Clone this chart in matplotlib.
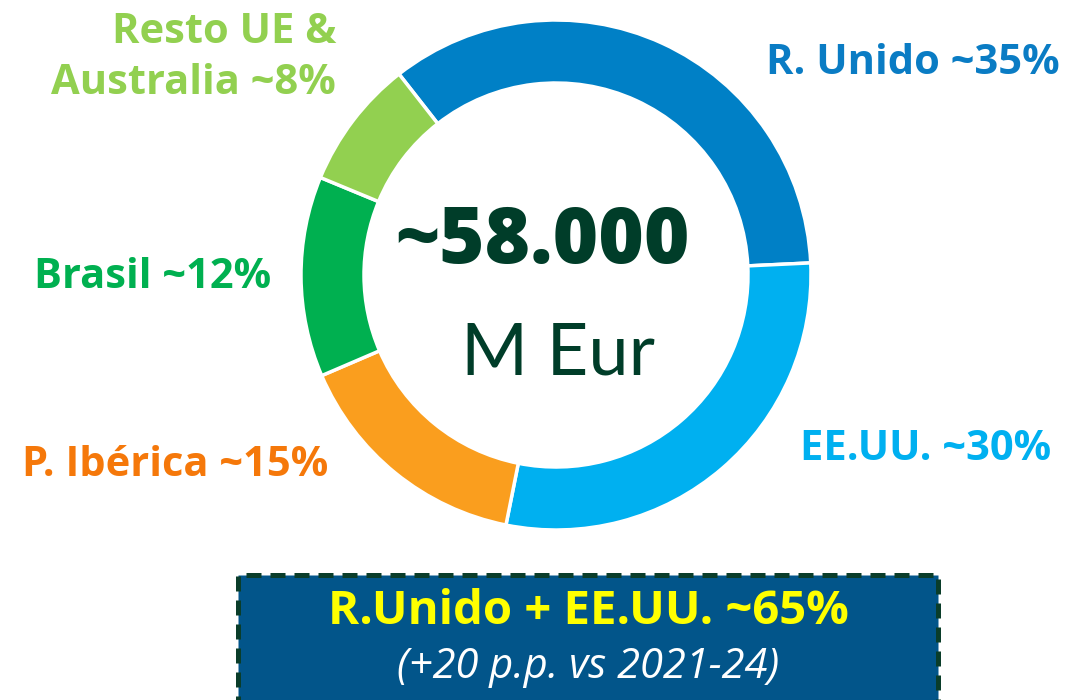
import matplotlib
matplotlib.use("Agg")
import matplotlib.pyplot as plt
from matplotlib.patches import Rectangle

# data
regions = ["R. Unido", "EE.UU.", "P. Ibérica", "Brasil", "Resto UE &\nAustralia"]
share_labels = [35, 30, 15, 12, 8]
share_values = [34.8, 28.9, 15.4, 12.7, 8.2]  # as drawn in the ring
seg_colors = ["#0080C6", "#00B0F0", "#FA9E1E", "#00B050", "#92D050"]
label_colors = ["#0A7CC4", "#00B0F0", "#F5780A", "#00B050", "#92D050"]
total_text = "~58.000"
unit_text = "M Eur"
box_title = "R.Unido + EE.UU. ~65%"
box_sub = "(+20 p.p. vs 2021-24)"

plt.rcParams["font.family"] = ["Open Sans", "DejaVu Sans"]

W, H = 1076, 700
fig = plt.figure(figsize=(W / 100, H / 100), dpi=100)
ax = fig.add_axes([0, 0, 1, 1])

cx, cy, r = 556, H - 275, 255
ax.pie(share_values, colors=seg_colors, startangle=128, counterclock=False,
       center=(cx, cy), radius=r,
       wedgeprops=dict(width=63, edgecolor="white", linewidth=2.5))
ax.set_xlim(0, W)
ax.set_ylim(0, H)
ax.set_aspect("equal")
ax.axis("off")

# labels around the ring
lab_pos = [(766, 63, "left"), (800, 450, "left"), (328, 466, "right"),
           (271, 277, "right"), (336, 58, "right")]
for name, s, col, (x, y, ha) in zip(regions, share_labels, label_colors, lab_pos):
    ax.text(x, H - y, f"{name} ~{s}%", color=col, fontsize=30, fontweight="bold",
            ha=ha, va="center", linespacing=1.35)

ax.text(cx - 13, H - 243, total_text, color="#003D29", fontsize=56,
        fontweight=800, ha="center", va="center")
ax.text(cx + 2, H - 354, unit_text, color="#003D29", fontsize=52,
        ha="center", va="center", family=["Lato", "DejaVu Sans"])

# bottom box
ax.add_patch(Rectangle((238, -10), 700, H - 575 + 10, facecolor="#02558A",
                       edgecolor="#0A3D2A", linewidth=3.6, linestyle=(0, (3, 1.8))))
ax.text(588, H - 612, box_title, color="#FFFF00", fontsize=34, fontweight="bold",
        ha="center", va="center")
ax.text(588, H - 667, box_sub, color="white", fontsize=30, style="italic",
        ha="center", va="center")

fig.savefig("out.png", dpi=100)
